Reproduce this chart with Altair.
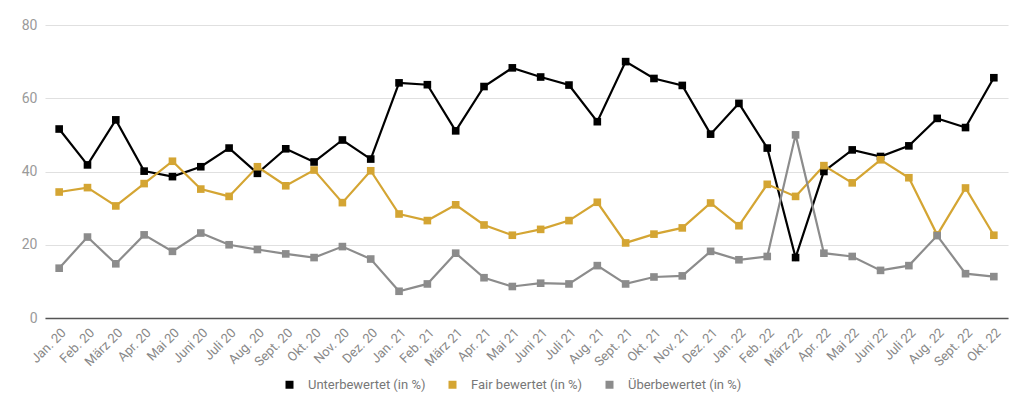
import altair as alt
import pandas as pd

monate = [
    "Jan. 20", "Feb. 20", "März 20", "Apr. 20", "Mai 20", "Juni 20", "Juli 20",
    "Aug. 20", "Sept. 20", "Okt. 20", "Nov. 20", "Dez. 20",
    "Jan. 21", "Feb. 21", "März 21", "Apr. 21", "Mai 21", "Juni 21", "Juli 21",
    "Aug. 21", "Sept. 21", "Okt. 21", "Nov. 21", "Dez. 21",
    "Jan. 22", "Feb. 22", "März 22", "Apr. 22", "Mai 22", "Juni 22", "Juli 22",
    "Aug. 22", "Sept. 22", "Okt. 22",
]

unterbewertet = [
    51.6, 41.8, 54.1, 40.1, 38.6, 41.3, 46.4, 39.5, 46.2, 42.6, 48.6, 43.4,
    64.2, 63.7, 51.1, 63.2, 68.3, 65.8, 63.6, 53.6, 70.0, 65.4, 63.5, 50.2,
    58.6, 46.4, 16.5, 40.0, 45.9, 44.1, 47.0, 54.5, 52.0, 65.6,
]
fair = [
    34.4, 35.6, 30.6, 36.7, 42.8, 35.2, 33.2, 41.3, 36.1, 40.4, 31.5, 40.2,
    28.4, 26.6, 30.9, 25.4, 22.6, 24.2, 26.6, 31.6, 20.5, 22.9, 24.6, 31.4,
    25.2, 36.5, 33.2, 41.6, 36.9, 43.2, 38.3, 22.7, 35.5, 22.6,
]
ueberbewertet = [
    13.6, 22.1, 14.8, 22.7, 18.2, 23.2, 20.0, 18.7, 17.5, 16.5, 19.5, 16.1,
    7.3, 9.3, 17.7, 11.0, 8.6, 9.5, 9.3, 14.3, 9.3, 11.2, 11.5, 18.2,
    15.9, 16.8, 50.0, 17.7, 16.8, 13.0, 14.3, 22.5, 12.1, 11.3,
]

serien = ["Unterbewertet (in %)", "Fair bewertet (in %)", "Überbewertet (in %)"]
farben = ["#000000", "#D4A533", "#8C8C8C"]

rows = []
for name, werte in zip(serien, [unterbewertet, fair, ueberbewertet]):
    for m, v in zip(monate, werte):
        rows.append({"Monat": m, "Serie": name, "Wert": v})
df = pd.DataFrame(rows)

chart = alt.Chart(df).mark_line(
    strokeWidth=2.2,
    point=alt.OverlayMarkDef(shape="square", size=58, filled=True, opacity=1),
).encode(
    x=alt.X("Monat:N", sort=monate, title=None,
            scale=alt.Scale(type="point", padding=0.5),
            axis=alt.Axis(labelAngle=-45, labelColor="#888888", labelFontSize=13,
                          labelFont="Roboto", ticks=False, domainColor="#555555",
                          domainWidth=1.5, grid=False, labelPadding=8)),
    y=alt.Y("Wert:Q", title=None,
            scale=alt.Scale(domain=[0, 80]),
            axis=alt.Axis(values=[0, 20, 40, 60, 80], labelColor="#9A9A9A",
                          labelFontSize=14, labelFont="Roboto", ticks=False,
                          domain=False, gridColor="#E0E0E0", gridWidth=1.2,
                          labelPadding=8)),
    color=alt.Color("Serie:N", sort=serien,
                    scale=alt.Scale(domain=serien, range=farben),
                    legend=alt.Legend(title=None, orient="none", direction="horizontal",
                                      legendX=238, legendY=353, symbolType="square",
                                      symbolSize=64, symbolStrokeWidth=0,
                                      labelFont="Roboto", labelFontSize=13,
                                      labelColor="#777777", labelOffset=12,
                                      columnPadding=20)),
).properties(
    width=963,
    height=293,
    autosize=alt.AutoSizeParams(type="none"),
    padding={"left": 37, "top": 17, "right": 8, "bottom": 78},
).configure_view(stroke=None)

chart.save("out.html", embed_options={"renderer": "svg", "actions": False})
